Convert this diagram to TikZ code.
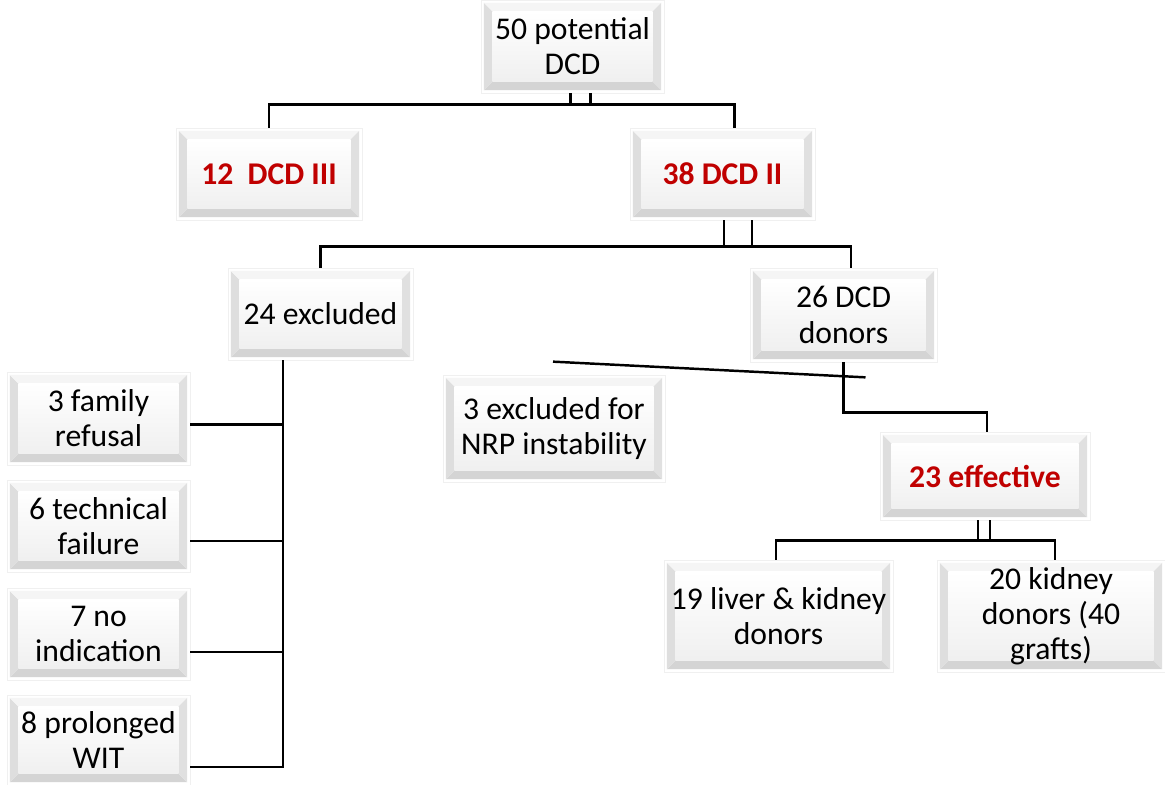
\documentclass[tikz,border=0pt]{standalone}
\usepackage{fontspec}
\setmainfont{Carlito}
\usetikzlibrary{calc}
\definecolor{dcdred}{RGB}{192,0,0}
\tikzset{
  bevelbox/.style={rectangle,draw=gray!12,line width=0.6pt,fill=white,
    inner sep=0pt,align=center,font=\fontsize{27}{30}\selectfont,
    path picture={
      \coordinate (bsw) at ([shift={(2.5pt,2.5pt)}]path picture bounding box.south west);
      \coordinate (bne) at ([shift={(-2.5pt,-2.5pt)}]path picture bounding box.north east);
      \coordinate (isw) at ([shift={(10pt,10pt)}]path picture bounding box.south west);
      \coordinate (ine) at ([shift={(-10pt,-10pt)}]path picture bounding box.north east);
      \fill[gray!34] (bsw) -- (bsw-|bne) -- (isw-|ine) -- (isw) -- cycle;
      \fill[gray!26] (bsw) -- (bsw|-bne) -- (isw|-ine) -- (isw) -- cycle;
      \fill[gray!8] (bsw|-bne) -- (bne) -- (ine) -- (isw|-ine) -- cycle;
      \fill[gray!24] (bsw-|bne) -- (bne) -- (ine) -- (isw-|ine) -- cycle;
      \shade[top color=white,bottom color=gray!12] (isw) rectangle (ine);
    }},
  boxsize/.style 2 args={minimum width=#1*0.03cm,minimum height=#2*0.03cm},
  redtext/.style={text=dcdred,font=\fontsize{27}{30}\selectfont\bfseries},
  link/.style={line width=2.1pt,black}
}

\begin{document}
\begin{tikzpicture}[x=0.03cm,y=-0.03cm]
  \useasboundingbox (0,0) rectangle (1165,785);

  % boxes
  \node[bevelbox,boxsize={183}{93}] (top50) at (572.5,46.5) {50 potential\\DCD};
  \node[bevelbox,boxsize={186}{92},redtext] (dcd3) at (269,174) {12\ \ DCD III};
  \node[bevelbox,boxsize={185}{92},redtext] (dcd2) at (722.5,174) {38 DCD II};
  \node[bevelbox,boxsize={185}{92}] (excl24) at (320.5,314) {24 excluded};
  \node[bevelbox,boxsize={187}{94}] (donors26) at (843.5,315) {26 DCD\\donors};
  \node[bevelbox,boxsize={222}{107}] (nrp) at (554,428.5) {3 excluded for\\NRP instability};
  \node[bevelbox,boxsize={210}{88},redtext] (eff23) at (985,476) {23 effective};
  \node[bevelbox,boxsize={229}{112}] (liver19) at (778.5,616) {19 liver \& kidney\\donors};
  \node[bevelbox,boxsize={228}{112}] (kidney20) at (1051,616) {20 kidney\\donors (40\\grafts)};

  \node[bevelbox,boxsize={183}{93}] (fam3) at (98.5,418.5) {3 family\\refusal};
  \node[bevelbox,boxsize={183}{92}] (tech6) at (98.5,526) {6 technical\\failure};
  \node[bevelbox,boxsize={183}{92}] (noind7) at (98.5,634) {7 no\\indication};
  \node[bevelbox,boxsize={183}{90}] (wit8) at (98.5,740) {8 prolonged\\WIT};

  % connectors
  \draw[link] ($(top50.south)+(18,0)$) -- ++(0,11) -| (dcd3.north);
  \draw[link] ($(top50.south)+(-2,0)$) -- ++(0,11) -| ($(dcd2.north)+(12,0)$);

  \draw[link] ($(dcd2.south)+(29.5,0)$) -- ++(0,26) -| (excl24.north);
  \draw[link] ($(dcd2.south)+(1.5,0)$) -- ++(0,26) -| ($(donors26.north)+(7.5,0)$);

  \draw[link] ($(nrp.north)+(-1,-13)$) -- ($(donors26.south)+(22,15)$);
  \draw[link] (donors26.south) -- ++(0,50) -| ($(eff23.north)+(2,0)$);

  \draw[link] ($(eff23.south)+(5,0)$) -- ++(0,20) -| ($(liver19.north)+(-2.5,0)$);
  \draw[link] ($(eff23.south)+(-7,0)$) -- ++(0,20) -| ($(kidney20.north)+(4,0)$);

  \draw[link] ($(excl24.south)+(-37.5,0)$) |- ($(wit8.east)+(0,27)$);
  \draw[link] ($(fam3.east)+(0,6)$) -- ($(fam3.east)+(92.5,6)$);
  \draw[link] ($(tech6.east)+(0,15)$) -- ($(tech6.east)+(92.5,15)$);
  \draw[link] ($(noind7.east)+(0,18)$) -- ($(noind7.east)+(92.5,18)$);
\end{tikzpicture}
\end{document}
